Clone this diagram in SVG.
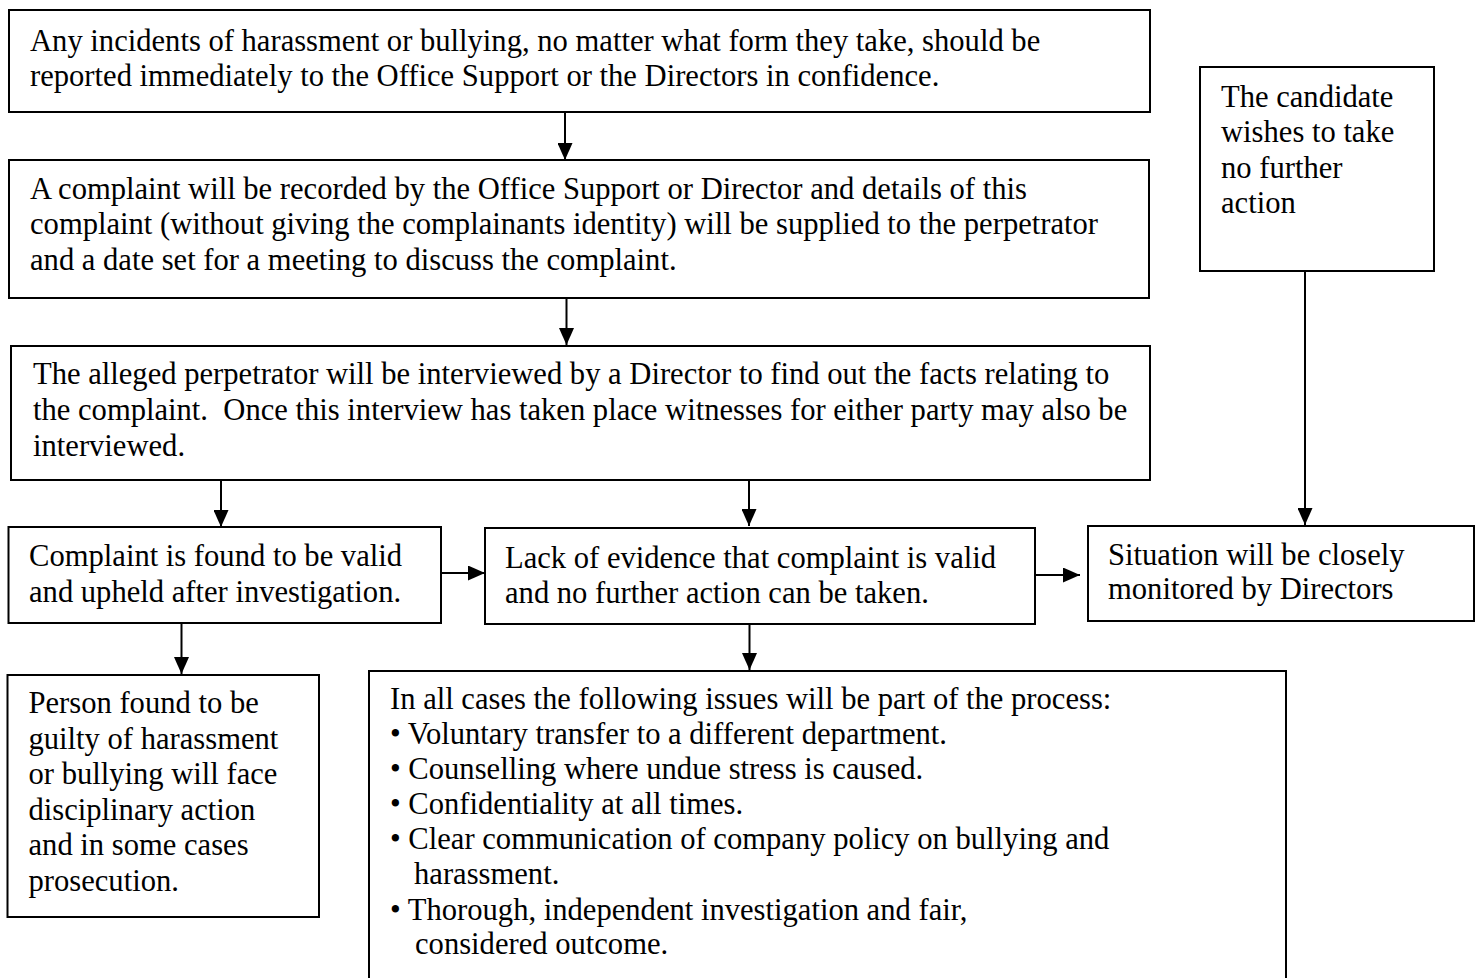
<svg xmlns="http://www.w3.org/2000/svg" width="1483" height="978" viewBox="0 0 1483 978">
<style>
.box{fill:#fff;stroke:#000;stroke-width:2}
.t{font-family:"Liberation Serif","Times New Roman",serif;font-size:30.6px;fill:#000;white-space:pre}
.c{stroke:#000;stroke-width:2;fill:none}
</style>
<defs>
<marker id="ah" markerUnits="userSpaceOnUse" markerWidth="17" markerHeight="15" refX="17" refY="7.5" orient="auto">
<path d="M0,0 L17,7.5 L0,15 z" fill="#000"/>
</marker>
</defs>
<rect width="1483" height="978" fill="#fff"/>
<g id="n1">
<rect class="box" x="9" y="10" width="1141" height="102"/>
<text class="t" x="30" y="50.5">Any incidents of harassment or bullying, no matter what form they take, should be</text>
<text class="t" x="30" y="85.5">reported immediately to the Office Support or the Directors in confidence.</text>
</g>
<g id="n2">
<rect class="box" x="9" y="160" width="1140" height="138"/>
<text class="t" x="30" y="198.5">A complaint will be recorded by the Office Support or Director and details of this</text>
<text class="t" x="30" y="234">complaint (without giving the complainants identity) will be supplied to the perpetrator</text>
<text class="t" x="30" y="269.5">and a date set for a meeting to discuss the complaint.</text>
</g>
<g id="n3">
<rect class="box" x="11" y="346" width="1139" height="134"/>
<text class="t" x="33" y="384">The alleged perpetrator will be interviewed by a Director to find out the facts relating to</text>
<text class="t" x="33" y="420" xml:space="preserve">the complaint.  Once this interview has taken place witnesses for either party may also be</text>
<text class="t" x="33" y="456">interviewed.</text>
</g>
<g id="n4">
<rect class="box" x="8.5" y="527" width="432.5" height="96"/>
<text class="t" x="29" y="566">Complaint is found to be valid</text>
<text class="t" x="29" y="601.5">and upheld after investigation.</text>
</g>
<g id="n5">
<rect class="box" x="485" y="528" width="550" height="96"/>
<text class="t" x="505" y="567.5">Lack of evidence that complaint is valid</text>
<text class="t" x="505" y="603">and no further action can be taken.</text>
</g>
<g id="n6">
<rect class="box" x="1088" y="526" width="386" height="95"/>
<text class="t" x="1108" y="565">Situation will be closely</text>
<text class="t" x="1108" y="599">monitored by Directors</text>
</g>
<g id="n7">
<rect class="box" x="1200" y="67" width="234" height="204"/>
<text class="t" x="1221" y="106.5">The candidate</text>
<text class="t" x="1221" y="142">wishes to take</text>
<text class="t" x="1221" y="177.5">no further</text>
<text class="t" x="1221" y="213">action</text>
</g>
<g id="n8">
<rect class="box" x="7.5" y="675" width="311.5" height="242"/>
<text class="t" x="28.5" y="713">Person found to be</text>
<text class="t" x="28.5" y="748.5">guilty of harassment</text>
<text class="t" x="28.5" y="784">or bullying will face</text>
<text class="t" x="28.5" y="819.5">disciplinary action</text>
<text class="t" x="28.5" y="855">and in some cases</text>
<text class="t" x="28.5" y="890.5">prosecution.</text>
</g>
<g id="n9">
<rect class="box" x="369" y="671" width="917" height="330"/>
<text class="t" x="390" y="708.5">In all cases the following issues will be part of the process:</text>
<text class="t" x="390" y="743.5">• Voluntary transfer to a different department.</text>
<text class="t" x="390" y="778.5">• Counselling where undue stress is caused.</text>
<text class="t" x="390" y="813.5">• Confidentiality at all times.</text>
<text class="t" x="390" y="848.5">• Clear communication of company policy on bullying and</text>
<text class="t" x="414" y="884">harassment.</text>
<text class="t" x="390" y="919.5">• Thorough, independent investigation and fair,</text>
<text class="t" x="415" y="954">considered outcome.</text>
</g>
<g id="connectors">
<line class="c" x1="565" y1="112" x2="565" y2="160" marker-end="url(#ah)"/>
<line class="c" x1="566.5" y1="298" x2="566.5" y2="345" marker-end="url(#ah)"/>
<line class="c" x1="221" y1="480" x2="221" y2="527" marker-end="url(#ah)"/>
<line class="c" x1="749" y1="480" x2="749" y2="526" marker-end="url(#ah)"/>
<line class="c" x1="441" y1="573" x2="485" y2="573" marker-end="url(#ah)"/>
<line class="c" x1="1035" y1="575" x2="1080" y2="575" marker-end="url(#ah)"/>
<line class="c" x1="1305" y1="271" x2="1305" y2="525" marker-end="url(#ah)"/>
<line class="c" x1="181.5" y1="623" x2="181.5" y2="674" marker-end="url(#ah)"/>
<line class="c" x1="749.5" y1="624" x2="749.5" y2="670" marker-end="url(#ah)"/>
</g>
</svg>
